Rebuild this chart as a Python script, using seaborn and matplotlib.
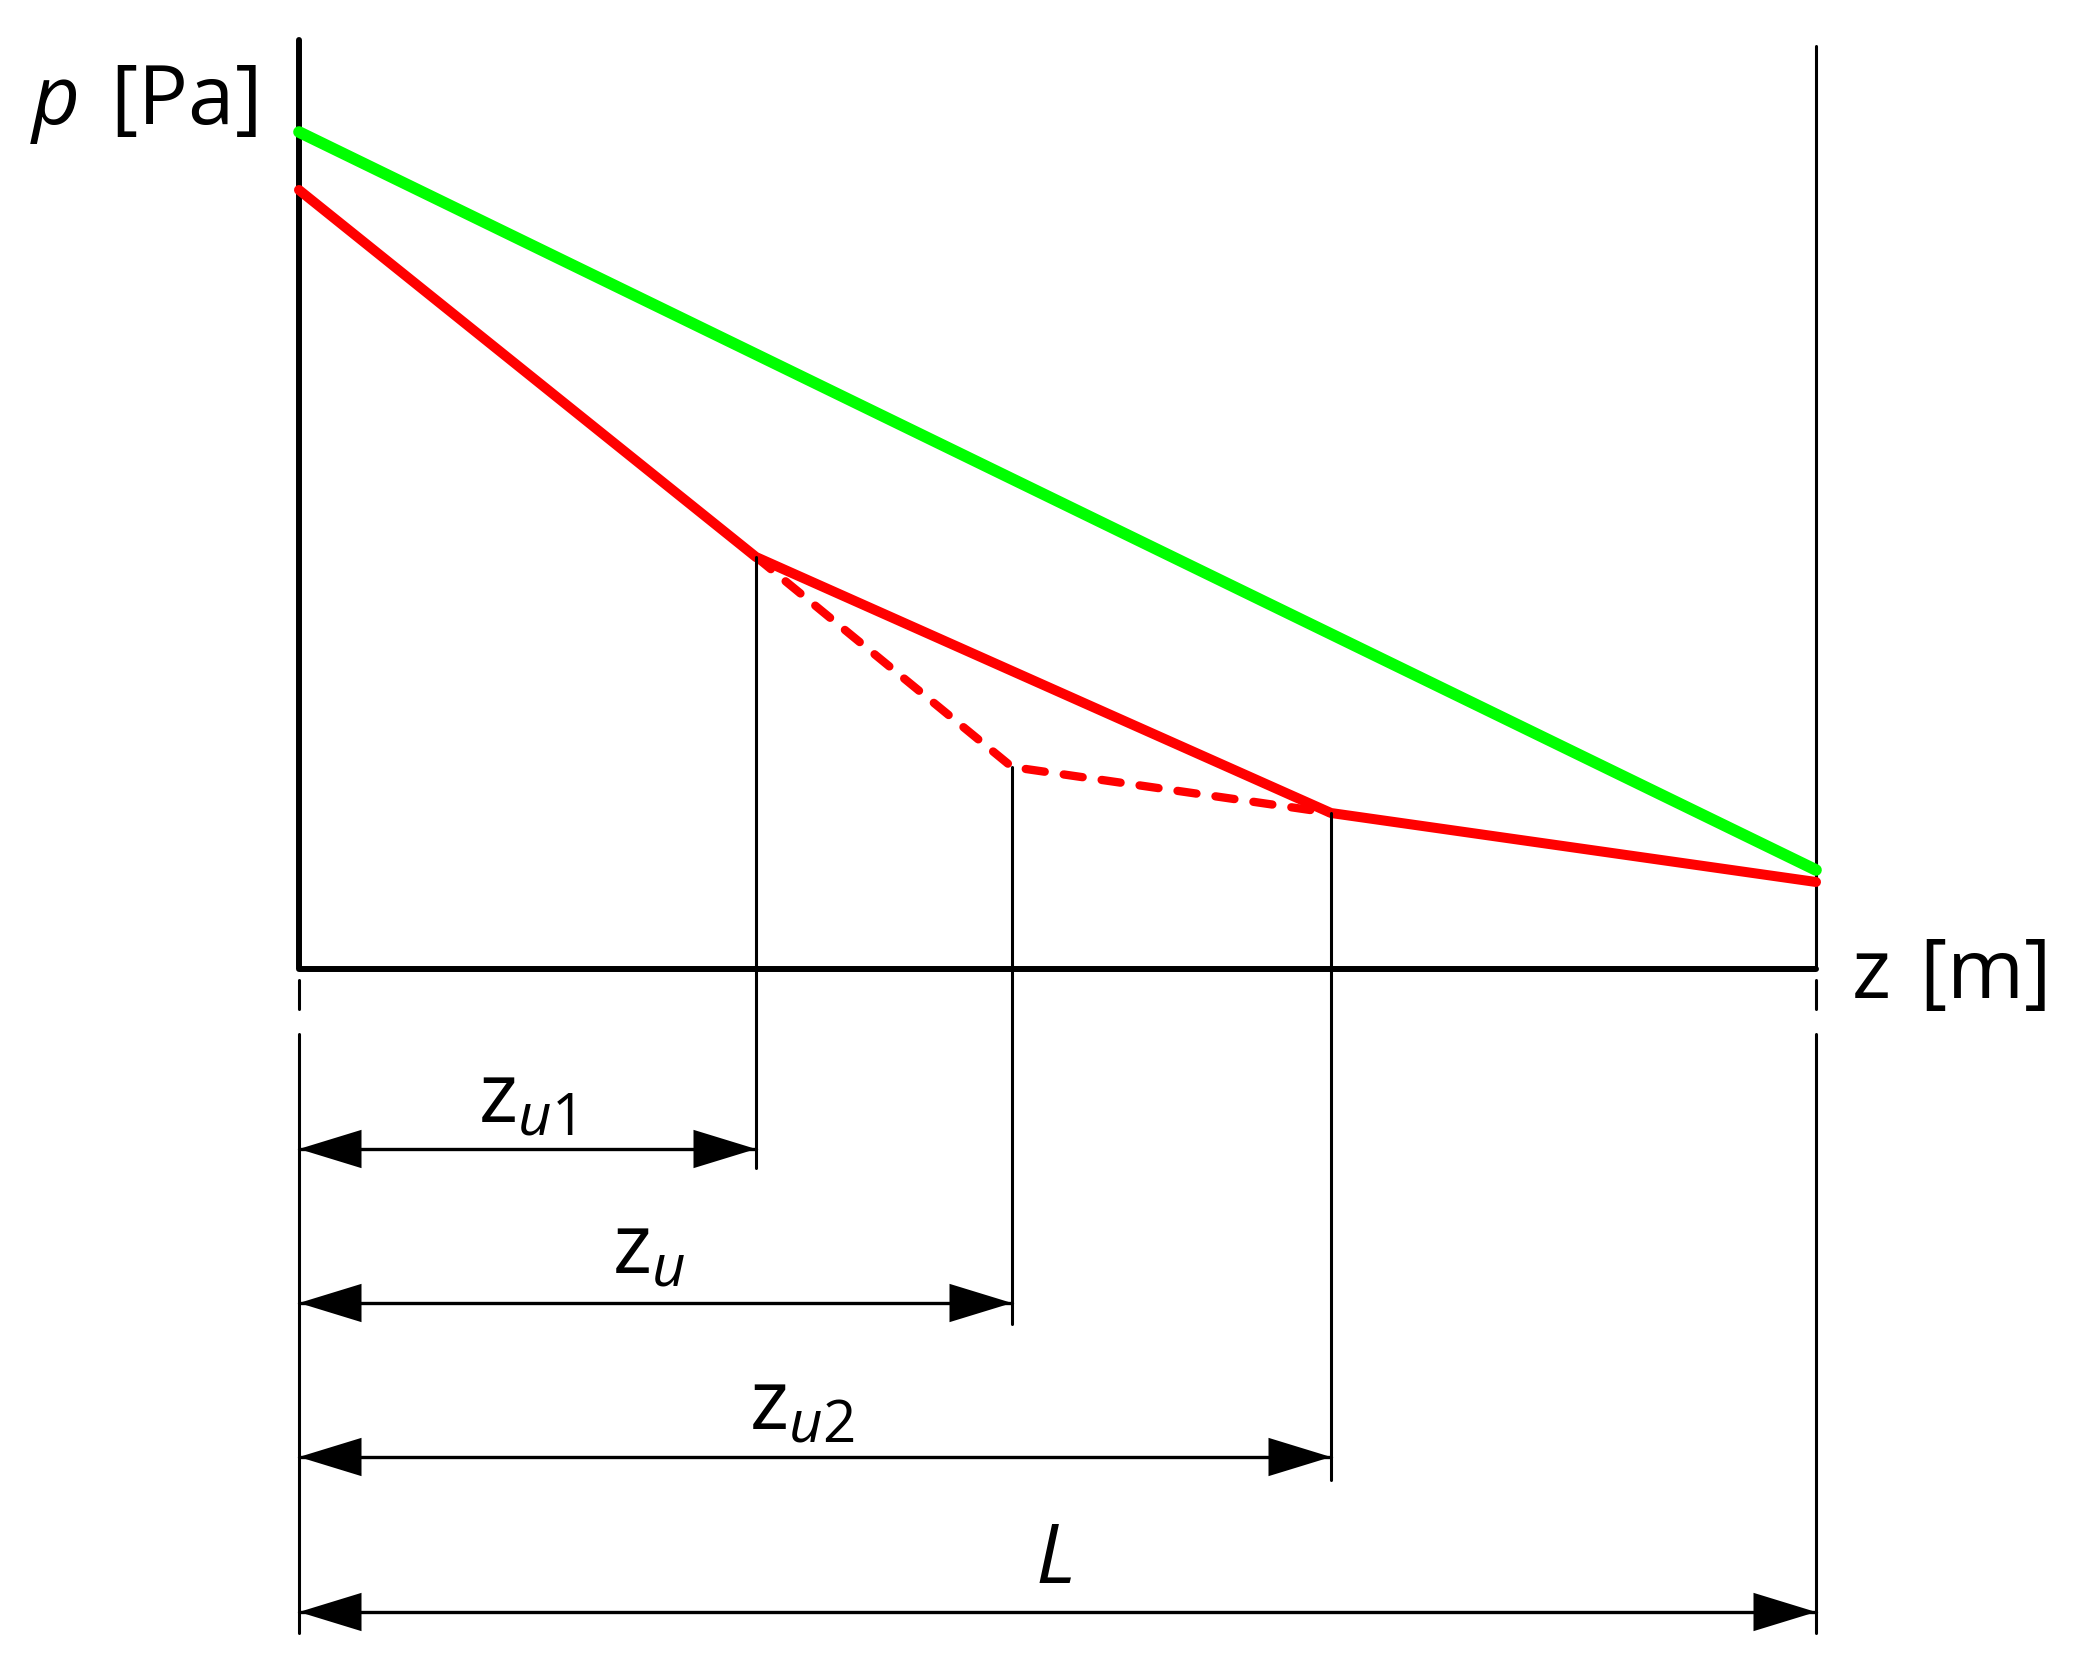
import numpy as np
import pandas as pd
import seaborn as sns
import matplotlib.pyplot as plt

# positions along the pipe [m] and pressures [Pa] (schematic units)
z_u1 = 4.57
z_u = 7.13
z_u2 = 10.32
L = 15.17

green_z = [0.0, L]
green_p = [8.37, 0.99]

red_z = [0.0, z_u1, z_u2, L]
red_p = [7.79, 4.12, 1.56, 0.87]

dash_z = [z_u1, z_u, z_u2]
dash_p = [4.12, 2.02, 1.56]

# dimension rows below the axis
dim_labels = [r'$\mathrm{z}_{\mathit{u1}}$', r'$\mathrm{z}_{\mathit{u}}$', r'$\mathrm{z}_{\mathit{u2}}$', r'$L$']
dim_ends = [z_u1, z_u, z_u2, L]
dim_levels = [-1.80, -3.34, -4.88, -6.43]
dim_text_y = [-1.53, -3.04, -4.60, -6.14]
dim_text_x = [2.27, 3.50, 5.03, 7.54]
ext_bottoms = [-1.99, -3.55, -5.11]

sns.set_theme(style='white')
plt.rcParams['font.family'] = ['Open Sans', 'DejaVu Sans']
plt.rcParams['mathtext.fontset'] = 'custom'
plt.rcParams['mathtext.rm'] = 'Open Sans'
plt.rcParams['mathtext.it'] = 'Open Sans:italic'

fig = plt.figure(figsize=(20.81, 16.77), dpi=100)
ax = fig.add_axes([0, 0, 1, 1])
ax.set_xlim(-2.99, 17.82)
ax.set_ylim(-7.08, 9.69)
ax.axis('off')

k = 'black'

# axes of the diagram
ax.plot([0, 0, L], [9.29, 0, 0], color=k, lw=4.3, solid_joinstyle='round')
ax.plot([L, L], [9.23, 0], color=k, lw=2.2)

# dashed continuation of the boundaries
for x in [0, L]:
    ax.plot([x, x], [-0.11, -0.40], color=k, lw=2.2, solid_capstyle='round')
    ax.plot([x, x], [-0.65, -6.64], color=k, lw=2.2)

# pressure lines
df_green = pd.DataFrame({'z': green_z, 'p': green_p})
df_red = pd.DataFrame({'z': red_z, 'p': red_p})
df_dash = pd.DataFrame({'z': dash_z, 'p': dash_p})

sns.lineplot(data=df_green, x='z', y='p', color='#00ff00', lw=8.4,
             estimator=None, ax=ax, solid_capstyle='round')
sns.lineplot(data=df_dash, x='z', y='p', color='#ff0000', lw=6.0,
             estimator=None, ax=ax, linestyle=(0, (2.3, 2.3)), dash_capstyle='round')
sns.lineplot(data=df_red, x='z', y='p', color='#ff0000', lw=7.2,
             estimator=None, ax=ax, solid_capstyle='round')

# extension lines down to the dimension rows
ext_tops = [red_p[1], dash_p[1], red_p[2]]
for x, top, bot in zip(dim_ends[:3], ext_tops, ext_bottoms):
    ax.plot([x, x], [top, bot], color=k, lw=2.2)

# dimension arrows and labels
for lab, end, lev, tx, ty in zip(dim_labels, dim_ends, dim_levels, dim_text_x, dim_text_y):
    ax.plot([0, end], [lev, lev], color=k, lw=2.4)
    ax.annotate('', xy=(0, lev), xytext=(end, lev),
                arrowprops=dict(arrowstyle='<|-|>,head_length=45,head_width=13.8',
                                mutation_scale=1, color=k, lw=0,
                                shrinkA=0, shrinkB=0))
    ax.text(tx, ty, lab, fontsize=60, ha='center', va='baseline', color=k)

ax.text(-1.56, 8.65, r'$p\hspace{0.12}$ [Pa]', fontsize=60, ha='center', va='center', color=k)
ax.text(16.50, -0.08, r'z$\hspace{0.1}$ [m]', fontsize=60, ha='center', va='center', color=k)

fig.savefig('out.png', dpi=100)
